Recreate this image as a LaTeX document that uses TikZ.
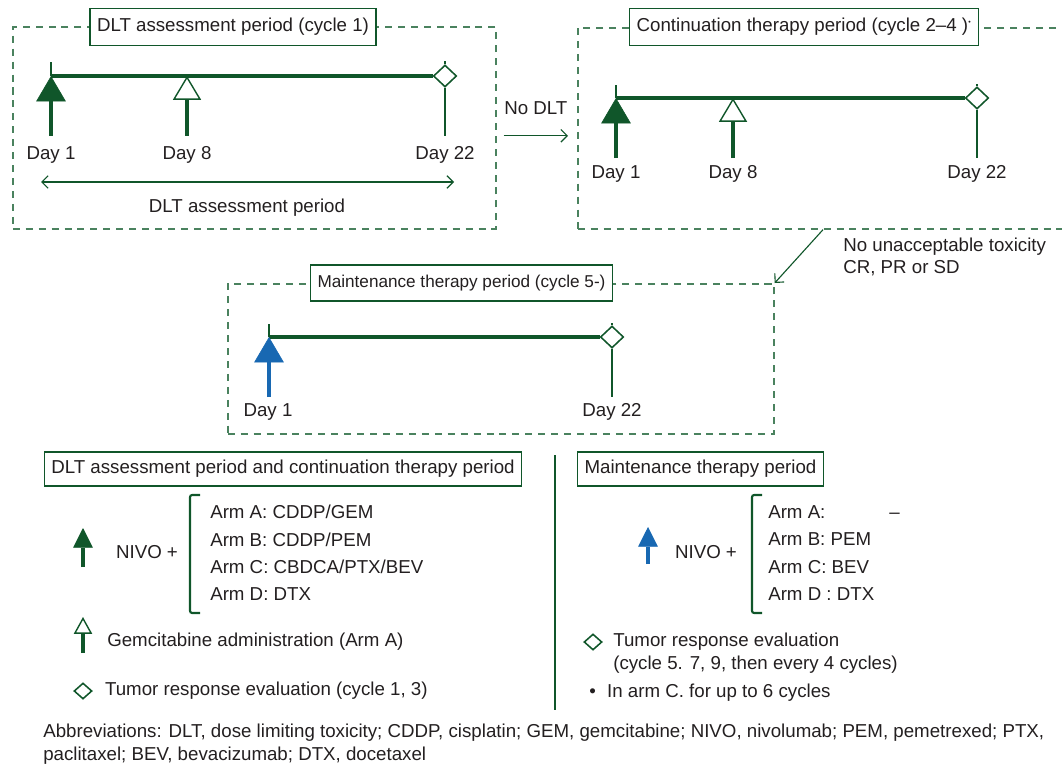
\documentclass[tikz,border=0pt]{standalone}
\usepackage{fontspec}
\setmainfont{Liberation Sans}
\usetikzlibrary{
	positioning,
	arrows.meta,
	shapes.geometric
}
\definecolor{dkgreen}{RGB}{16,86,42}
\definecolor{dashgreen}{RGB}{74,130,94}
\definecolor{nivoblue}{RGB}{24,104,178}
\definecolor{txtgray}{RGB}{35,31,32}

\begin{document}
\begin{tikzpicture}[
	x=0.025cm, y=-0.025cm,
	every node/.style={font=\fontsize{13.3}{16}\selectfont, text=txtgray},
	dashbox/.style={draw=dashgreen, line width=1.1pt, dash pattern=on 5pt off 4.2pt, anchor=north west, inner sep=0pt},
	titlebox/.style={draw=dkgreen, line width=1.1pt, fill=white, inner xsep=5pt, minimum height=0.92cm},
	timeline/.style={dkgreen, line width=2.6pt},
	tick/.style={dkgreen, line width=1pt},
	nivo/.style={dkgreen, line width=2.8pt, -{Triangle[length=18pt, width=21pt, line width=0.4pt]}},
	blue/.style={nivo, nivoblue},
	gem/.style={dkgreen, line width=2.8pt, -{Triangle[open, length=17pt, width=20pt, line width=1pt]}},
	keynivo/.style={nivo, -{Triangle[length=14pt, width=14pt, line width=0.4pt]}},
	keyblue/.style={keynivo, nivoblue},
	keygem/.style={gem, -{Triangle[open, length=12pt, width=13pt, line width=1pt]}},
	evalmark/.style={diamond, draw=dkgreen, fill=white, line width=1.1pt, inner sep=0pt, minimum width=0.58cm, minimum height=0.55cm},
	keymark/.style={evalmark, minimum width=0.45cm, minimum height=0.4cm},
	flow/.style={dkgreen, line width=0.8pt, -{Straight Barb[length=4.5pt, width=9pt]}},
	span/.style={flow, {Straight Barb[length=4.5pt, width=9pt]}-{Straight Barb[length=4.5pt, width=9pt]}},
	bracket/.style={dkgreen, line width=1.5pt, rounded corners=1.5pt},
	lefttext/.style={anchor=west, inner sep=0pt, align=left}
]
\useasboundingbox (0,0) rectangle (1062,768);

% cycle 1
\node[dashbox, minimum width=12.075cm, minimum height=5.05cm] (cyc1) at (12,26) {};
\node[titlebox] (cyc1t) at (233,27) {DLT assessment period (cycle 1)};
\coordinate (c1s) at (51,76);
\coordinate (c1g) at (187,76);
\coordinate (c1sb) at (51,136);
\coordinate (c1gb) at (187,136);
\coordinate (c1eb) at (445,136);
\node[evalmark] (c1e) at (445,76) {};
\draw[timeline] (c1s) -- (c1e.west);
\draw[tick] (c1s) -- ++(0,-14);
\draw[tick] (c1e.north) -- ++(0,-3);
\draw[tick] (c1e.south) -- (c1eb);
\draw[nivo] (c1sb) -- (c1s);
\draw[gem] (c1gb) -- (c1g);
\node (c1d1) at (51,155) {Day 1};
\node (c1d8) at (187,155) {Day 8};
\node (c1d22) at (445,155) {Day 22};
\coordinate (c1pl) at (41,182);
\coordinate (c1pr) at (454,182);
\draw[span] (c1pl) -- (c1pr);
\node (c1p) at (247,208) {DLT assessment period};

% cycle 2-4
\node[dashbox, minimum width=13cm, minimum height=5.025cm] (cyc2) at (577,27) {};
\node[titlebox] (cyc2t) at (804,27) {Continuation therapy period (cycle 2--4 )\textsuperscript{\tiny\textbullet}};
\coordinate (c2s) at (616,98);
\coordinate (c2g) at (733,98);
\coordinate (c2sb) at (616,158);
\coordinate (c2gb) at (733,158);
\coordinate (c2eb) at (977,158);
\node[evalmark] (c2e) at (977,98) {};
\draw[timeline] (c2s) -- (c2e.west);
\draw[tick] (c2s) -- ++(0,-13);
\draw[tick] (c2e.north) -- ++(0,-2);
\draw[tick] (c2e.south) -- (c2eb);
\draw[nivo] (c2sb) -- (c2s);
\draw[gem] (c2gb) -- (c2g);
\node (c2d1) at (616,174) {Day 1};
\node (c2d8) at (733,174) {Day 8};
\node (c2d22) at (977,174) {Day 22};

\draw[flow] ([shift={(7,8)}]cyc1.east) coordinate (nd) -- node[midway, yshift=0.68cm] (nodlt) {No DLT} ([xshift=-0.225cm]nd -| cyc2.west);

% maintenance
\node[dashbox, minimum width=13.65cm, minimum height=3.75cm] (maint) at (227,283) {};
\node[titlebox, minimum height=0.9cm, font=\fontsize{12.2}{15}\selectfont] (maintt) at (461.5,283) {Maintenance therapy period (cycle 5-)};
\coordinate (c3s) at (269,337);
\coordinate (c3sb) at (269,397);
\coordinate (c3eb) at (612,397);
\node[evalmark] (c3e) at (612,337) {};
\draw[timeline] (c3s) -- (c3e.west);
\draw[tick] (c3s) -- ++(0,-13);
\draw[tick] (c3e.north) -- ++(0,-2);
\draw[tick] (c3e.south) -- (c3eb);
\draw[blue] (c3sb) -- (c3s);
\node (c3d1) at (268,412) {Day 1};
\node (c3d22) at (612,412) {Day 22};

\draw[flow] ([xshift=6.15cm]cyc2.south west) -- (maint.north east);
\node[lefttext, font=\fontsize{13.3}{15.5}\selectfont] (tox) at (843,257) {No unacceptable toxicity\\CR, PR or SD};

% legend
\node[titlebox, minimum height=0.85cm] (keyl) at (283,469) {DLT assessment period and continuation therapy period};
\coordinate (kna) at (83,528);
\coordinate (knb) at (83,567);
\draw[keynivo] (knb) -- (kna);
\node (knivo) at (147,552) {NIVO +};
\draw[bracket] (200,495) -- (190,495) -- (190,613) -- (200,613);
\node[lefttext, font=\fontsize{13.3}{19.4}\selectfont] (karms) at (210,553) {Arm A: CDDP/GEM\\Arm B: CDDP/PEM\\Arm C: CBDCA/PTX/BEV\\Arm D: DTX};
\coordinate (kga) at (83,617);
\coordinate (kgb) at (83,653);
\draw[keygem] (kgb) -- (kga);
\node[lefttext] (kgem) at (107,642) {Gemcitabine administration (Arm A)};
\node[keymark] (kdia) at (83,691) {};
\node[lefttext, right=0.3cm of kdia] (keval) {Tumor response evaluation (cycle 1, 3)};

\draw[dkgreen, line width=0.8pt] (555,455) -- (555,710);

\node[titlebox, minimum height=0.85cm] (keyr) at (700.5,469) {Maintenance therapy period};
\coordinate (kba) at (648,527);
\coordinate (kbb) at (648,564);
\draw[keyblue] (kbb) -- (kba);
\node (kbnivo) at (706,552) {NIVO +};
\draw[bracket] (762,495) -- (752,495) -- (752,613) -- (762,613);
\node[lefttext, font=\fontsize{13.3}{19.4}\selectfont] (kbarms) at (768,553) {Arm A:\hspace{1.6cm}--\\Arm B: PEM\\Arm C: BEV\\Arm D : DTX};
\node[keymark] (kbdia) at (593,642) {};
\node[lefttext, font=\fontsize{13.3}{16.3}\selectfont, anchor=north west] (kbeval) at (613,633) {Tumor response evaluation\\(cycle 5. 7, 9, then every 4 cycles)};
\node[lefttext] (kbnote) at (589,693) {\textbullet\hspace{8pt}In arm C. for up to 6 cycles};

\node[lefttext, font=\fontsize{13.3}{16.3}\selectfont] (abbr) at (43,744.5) {Abbreviations: DLT, dose limiting toxicity; CDDP, cisplatin; GEM, gemcitabine; NIVO, nivolumab; PEM, pemetrexed; PTX,\\paclitaxel; BEV, bevacizumab; DTX, docetaxel};
\end{tikzpicture}
\end{document}
